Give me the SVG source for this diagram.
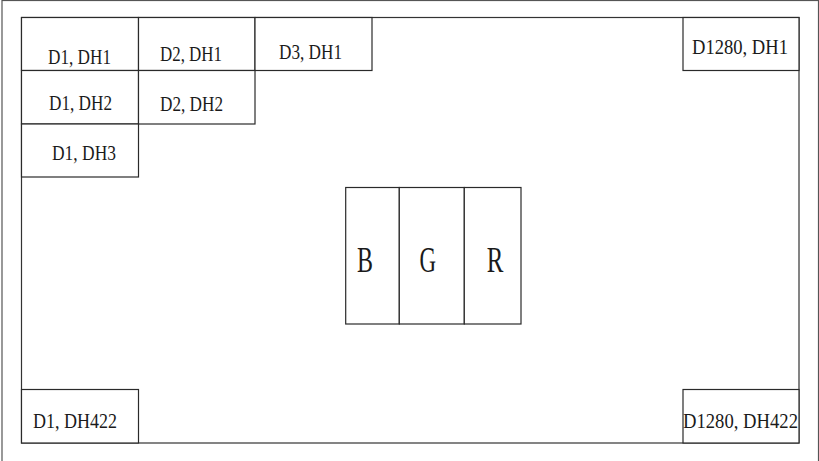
<svg xmlns="http://www.w3.org/2000/svg" width="819" height="461" viewBox="0 0 819 461">
<style>
.cell{fill:#fff;stroke:#2a2a2a;stroke-width:1.2}
.lbl{font-family:"Liberation Serif","Noto Serif CJK SC",serif;font-size:22px;fill:#1a1a1a}
.big{font-family:"Liberation Serif","Noto Serif CJK SC",serif;font-size:36px;fill:#1a1a1a}
</style>
<rect x="0" y="0" width="819" height="461" fill="#fff"/>
<g id="outer-border"><rect x="2" y="0.5" width="816.5" height="480" fill="none" stroke="#555" stroke-width="1.2"/></g>
<g id="frame"><rect x="21.5" y="17.5" width="777.5" height="425.5" fill="none" stroke="#333" stroke-width="1.2"/></g>
<g id="d1-dh1"><rect class="cell" x="21.5" y="17.5" width="117" height="53"/><text class="lbl" x="48" y="63.5" textLength="63" lengthAdjust="spacingAndGlyphs">D1, DH1</text></g>
<g id="d2-dh1"><rect class="cell" x="138.5" y="17.5" width="116.5" height="53"/><text class="lbl" x="160" y="61" textLength="62" lengthAdjust="spacingAndGlyphs">D2, DH1</text></g>
<g id="d3-dh1"><rect class="cell" x="255" y="17.5" width="117" height="53"/><text class="lbl" x="279" y="58.5" textLength="63" lengthAdjust="spacingAndGlyphs">D3, DH1</text></g>
<g id="d1-dh2"><rect class="cell" x="21.5" y="70.5" width="117" height="53.5"/><text class="lbl" x="49" y="110" textLength="63" lengthAdjust="spacingAndGlyphs">D1, DH2</text></g>
<g id="d2-dh2"><rect class="cell" x="138.5" y="70.5" width="116.5" height="53.5"/><text class="lbl" x="160" y="111" textLength="63" lengthAdjust="spacingAndGlyphs">D2, DH2</text></g>
<g id="d1-dh3"><rect class="cell" x="21.5" y="124" width="117" height="53"/><text class="lbl" x="52" y="160" textLength="64" lengthAdjust="spacingAndGlyphs">D1, DH3</text></g>
<g id="d1280-dh1"><rect class="cell" x="683" y="17.5" width="116" height="53"/><text class="lbl" x="692" y="54" textLength="96" lengthAdjust="spacingAndGlyphs">D1280, DH1</text></g>
<g id="d1-dh422"><rect class="cell" x="21.5" y="389.5" width="117" height="53.5"/><text class="lbl" x="33" y="428" textLength="84" lengthAdjust="spacingAndGlyphs">D1, DH422</text></g>
<g id="d1280-dh422"><rect class="cell" x="683" y="389.5" width="116" height="53.5"/><text class="lbl" x="683" y="428" textLength="115" lengthAdjust="spacingAndGlyphs">D1280, DH422</text></g>
<g id="pixel-b"><rect class="cell" x="345.7" y="187.5" width="53.6" height="136.5"/><text class="big" x="357" y="272" textLength="16" lengthAdjust="spacingAndGlyphs">B</text></g>
<g id="pixel-g"><rect class="cell" x="399.3" y="187.5" width="65" height="136.5"/><text class="big" x="419.5" y="272" textLength="16.5" lengthAdjust="spacingAndGlyphs">G</text></g>
<g id="pixel-r"><rect class="cell" x="464.3" y="187.5" width="56.7" height="136.5"/><text class="big" x="486.7" y="272" textLength="16.6" lengthAdjust="spacingAndGlyphs">R</text></g>
</svg>
